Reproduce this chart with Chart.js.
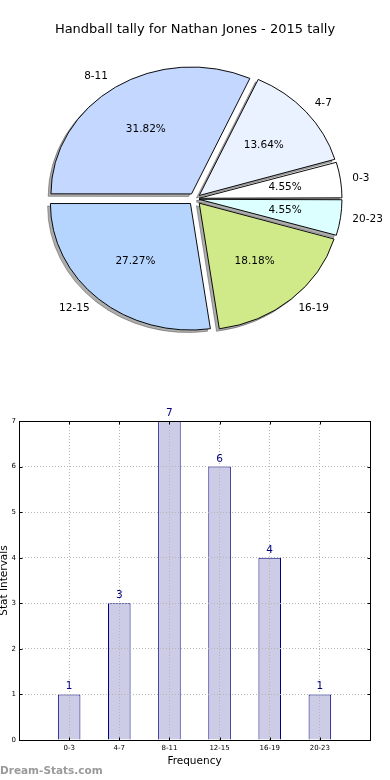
<!DOCTYPE html>
<html><head><meta charset="utf-8">
<script src="https://cdn.jsdelivr.net/npm/chart.js@4"></script>
<style>
html,body{margin:0;padding:0;background:#fff;width:390px;height:780px;overflow:hidden}
#pieWrap{position:absolute;left:0;top:0;width:390px;height:400px}
#barWrap{position:absolute;left:0;top:400px;width:390px;height:380px}
#wm{position:absolute;left:0;top:764px;font:bold 10.5px 'DejaVu Sans';color:#9a9a9a;white-space:nowrap}
</style></head><body>
<div id="pieWrap"><canvas id="pie" width="390" height="400"></canvas></div>
<div id="barWrap"><canvas id="bar" width="390" height="380"></canvas></div>
<div id="wm"></div>
<script>
// ---- data ----
const chartTitle = 'Handball tally for Nathan Jones - 2015 tally';
const categories = ['0-3', '4-7', '8-11', '12-15', '16-19', '20-23'];
const counts = [1, 3, 7, 6, 4, 1];
const yMin = 0, yMax = 7, yStep = 1;
const xAxisTitle = 'Frequency';
const yAxisTitle = 'Stat Intervals';
const watermark = 'Dream-Stats.com';

// ---- styles ----
const sliceColors = ['#ffffff', '#eaf1ff', '#c4d8ff', '#b5d5ff', '#d0ea8a', '#dcffff'];
const FONT = '"DejaVu Sans", "Liberation Sans", sans-serif';
const PIE_R = 140;        // horizontal radius
const PIE_SY = 0.903;     // vertical squash (matplotlib non-equal axes)
const EXPLODE = 0.05;     // fraction of radius

document.getElementById('wm').textContent = watermark;

// Pie: Chart.js draws clockwise, matplotlib counter-clockwise -> reverse order, start at 3 o'clock
const pieLabels = categories.slice().reverse();
const pieValues = counts.slice().reverse();
const pieColors = sliceColors.slice().reverse();
const total = counts.reduce((a, b) => a + b, 0);

const ellipsePlugin = {
  id: 'ellipsePie',
  beforeDatasetsDraw(chart) {
    const meta = chart.getDatasetMeta(0);
    const a0 = meta.data[0];
    const ctx = chart.ctx;
    ctx.save();
    ctx.translate(a0.x, a0.y);
    ctx.scale(1, PIE_SY);
    ctx.translate(-a0.x, -a0.y);
    // shadows first (below all wedges)
    meta.data.forEach(arc => {
      ctx.save();
      ctx.translate(-2.8, 2.8);
      ctx.filter = 'brightness(0)';
      ctx.globalAlpha = 0.32;
      arc.draw(ctx);
      ctx.restore();
    });
  },
  afterDatasetsDraw(chart) {
    const ctx = chart.ctx;
    ctx.restore();
    const meta = chart.getDatasetMeta(0);
    ctx.save();
    ctx.fillStyle = '#000';
    ctx.font = '10.5px ' + FONT;
    ctx.textBaseline = 'middle';
    meta.data.forEach((arc, i) => {
      const mid = (arc.startAngle + arc.endAngle) / 2;
      const ux = Math.cos(mid), uy = Math.sin(mid);
      const R = arc.outerRadius;
      const v = chart.data.datasets[0].data[i];
      const pct = (v / total * 100).toFixed(2) + '%';
      ctx.textAlign = 'center';
      ctx.fillText(pct, arc.x + (EXPLODE + 0.6) * ux * R, arc.y + (EXPLODE + 0.6) * uy * R * PIE_SY);
      ctx.textAlign = ux > 0 ? 'left' : 'right';
      ctx.fillText(chart.data.labels[i], arc.x + (EXPLODE + 1.1) * ux * R - (ux > 0 ? 2 : 0), arc.y + (EXPLODE + 1.1) * uy * R * PIE_SY);
    });
    ctx.font = '13px ' + FONT;
    ctx.textAlign = 'center';
    ctx.fillText(chartTitle, 195, 30);
    ctx.restore();
  }
};

new Chart(document.getElementById('pie'), {
  type: 'pie',
  data: {
    labels: pieLabels,
    datasets: [{
      data: pieValues,
      backgroundColor: pieColors,
      borderColor: '#000',
      borderWidth: 1,
      borderJoinStyle: 'miter',
      radius: PIE_R,
      offset: (c) => {
        const circ = c.raw / total * Math.PI * 2;
        const fix = 1 - Math.sin(Math.min(Math.PI, circ));
        return 4 * EXPLODE * PIE_R / (1 + fix);
      }
    }]
  },
  options: {
    responsive: false,
    animation: false,
    rotation: 90,
    layout: { padding: { left: 0, right: 0, top: 0, bottom: 2.4 } },
    plugins: { legend: { display: false }, tooltip: { enabled: false }, title: { display: false } }
  },
  plugins: [ellipsePlugin]
});

// Bar chart: pad categories with empty slots at each end (axis runs -1..6)
const barLabels = [''].concat(categories, ['']);
const barValues = [null].concat(counts, [null]);

const barDeco = {
  id: 'barDeco',
  afterDraw(chart) {
    const { ctx, chartArea: a, scales: { x, y } } = chart;
    ctx.save();
    const meta = chart.getDatasetMeta(0);
    ctx.font = '10.5px ' + FONT;
    ctx.fillStyle = '#000080';
    ctx.textAlign = 'center';
    ctx.textBaseline = 'alphabetic';
    meta.data.forEach((bar, i) => {
      const v = chart.data.datasets[0].data[i];
      if (v == null) return;
      ctx.fillText(String(v), bar.x, bar.y - 5);
    });
    // frame
    ctx.strokeStyle = '#000';
    ctx.lineWidth = 1;
    const L = Math.round(a.left) + 0.5, T = Math.round(a.top) + 0.5, Rr = Math.round(a.right) + 0.5, B = Math.round(a.bottom) + 0.5;
    ctx.strokeRect(L, T, Rr - L, B - T);
    // inward tick marks
    ctx.beginPath();
    for (let v = yMin; v <= yMax; v += yStep) {
      const py = Math.round(y.getPixelForValue(v)) + 0.5;
      ctx.moveTo(L, py); ctx.lineTo(L + 3, py);
      ctx.moveTo(Rr, py); ctx.lineTo(Rr - 3, py);
    }
    categories.forEach((c, i) => {
      const px = Math.round(x.getPixelForValue(i + 1)) + 0.5;
      ctx.moveTo(px, B); ctx.lineTo(px, B - 3);
      ctx.moveTo(px, T); ctx.lineTo(px, T + 3);
    });
    ctx.stroke();
    ctx.restore();
  }
};

new Chart(document.getElementById('bar'), {
  type: 'bar',
  data: {
    labels: barLabels,
    datasets: [{
      data: barValues,
      backgroundColor: '#ccccE6',
      borderColor: '#000080',
      borderWidth: 1,
      barPercentage: 0.45,
      categoryPercentage: 1
    }]
  },
  options: {
    responsive: false,
    animation: false,
    layout: { padding: { left: 0, right: 20, top: 21, bottom: 12 } },
    plugins: { legend: { display: false }, tooltip: { enabled: false } },
    scales: {
      x: {
        type: 'category',
        offset: false,
        grid: { offset: false, color: '#b4b4b4', lineWidth: 1, drawTicks: false, z: 1 },
        border: { display: false, dash: [1, 2] },
        ticks: { font: { family: FONT, size: 7 }, color: '#000', padding: 4, maxRotation: 0, autoSkip: false },
        title: { display: true, text: xAxisTitle, color: '#000', font: { family: FONT, size: 10.5, lineHeight: 1.2 }, padding: 0 },
        afterFit: (s) => { s.height = 28; }
      },
      y: {
        min: yMin, max: yMax,
        grid: { color: '#b4b4b4', lineWidth: 1, drawTicks: false, z: 1 },
        border: { display: false, dash: [1, 2] },
        ticks: { stepSize: yStep, font: { family: FONT, size: 7 }, color: '#000', padding: 3 },
        title: { display: true, text: yAxisTitle, color: '#000', font: { family: FONT, size: 10.5, lineHeight: 0.8 }, padding: 0 },
        afterFit: (s) => { s.width = 19; }
      }
    }
  },
  plugins: [barDeco]
});
</script>
</body></html>
